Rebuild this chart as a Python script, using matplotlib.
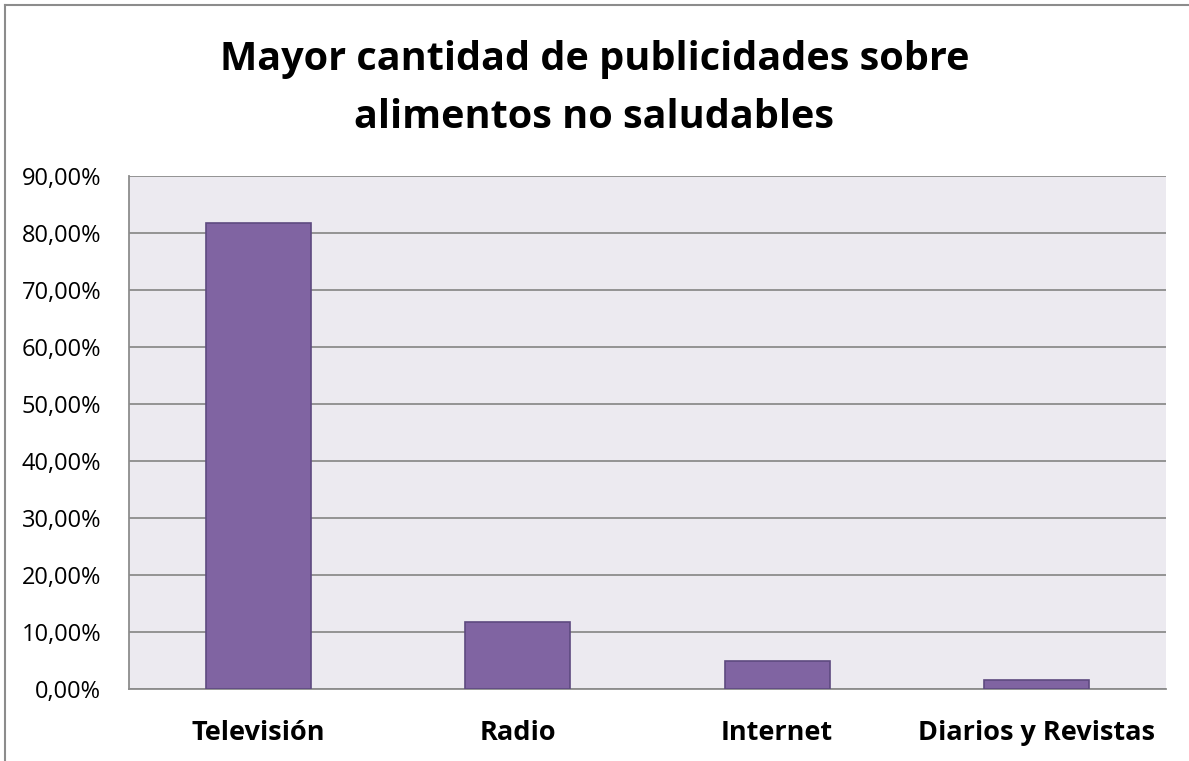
import numpy as np
import matplotlib.pyplot as plt
from matplotlib.lines import Line2D
from matplotlib.ticker import FuncFormatter

# data
categorias = ['Televisión', 'Radio', 'Internet', 'Diarios y Revistas']
porcentajes = [81.75, 11.7, 5.0, 1.6]
titulo = ['Mayor cantidad de publicidades sobre', 'alimentos no saludables']

plt.rcParams['font.family'] = ['Open Sans', 'DejaVu Sans']

fig = plt.figure(figsize=(11.89, 7.61), dpi=100)
ax = fig.add_axes([0.1085, 0.0946, 0.8722, 0.6741])

x = np.arange(len(categorias))
ax.bar(x, porcentajes, width=0.405, color='#8064A2', edgecolor='#5E4A80', linewidth=1.2, zorder=3)

ax.set_facecolor('#ECEAF0')
ax.set_xlim(-0.5, 3.5)
ax.set_ylim(0, 90)
ax.set_yticks(np.arange(0, 91, 10))
ax.yaxis.set_major_formatter(FuncFormatter(lambda v, p: f'{v:.2f}%'.replace('.', ',')))
ax.grid(axis='y', color='#8C8C8C', linewidth=1.3, zorder=1)
ax.set_xticks(x)
ax.set_xticklabels(categorias, fontsize=19.5, fontweight='bold')
ax.tick_params(axis='y', labelsize=17, length=0, pad=20)
ax.tick_params(axis='x', length=0, pad=22)
for s in ['top', 'right']:
    ax.spines[s].set_visible(False)
for s in ['left', 'bottom']:
    ax.spines[s].set_color('#8C8C8C')
    ax.spines[s].set_linewidth(1.3)

# two title lines, placed by baseline
fig.text(0.5, 0.908, titulo[0], ha='center', va='baseline', fontsize=28.5, fontweight='bold')
fig.text(0.5, 0.832, titulo[1], ha='center', va='baseline', fontsize=28.5, fontweight='bold')

# outer chart border (top and left edges only are visible)
fig.lines.append(Line2D([0.0045, 1.0], [0.9935, 0.9935], transform=fig.transFigure,
                        color='#8C8C8C', linewidth=1.5))
fig.lines.append(Line2D([0.0045, 0.0045], [0.0, 0.9935], transform=fig.transFigure,
                        color='#8C8C8C', linewidth=1.5))

fig.savefig('out.png', dpi=100)
